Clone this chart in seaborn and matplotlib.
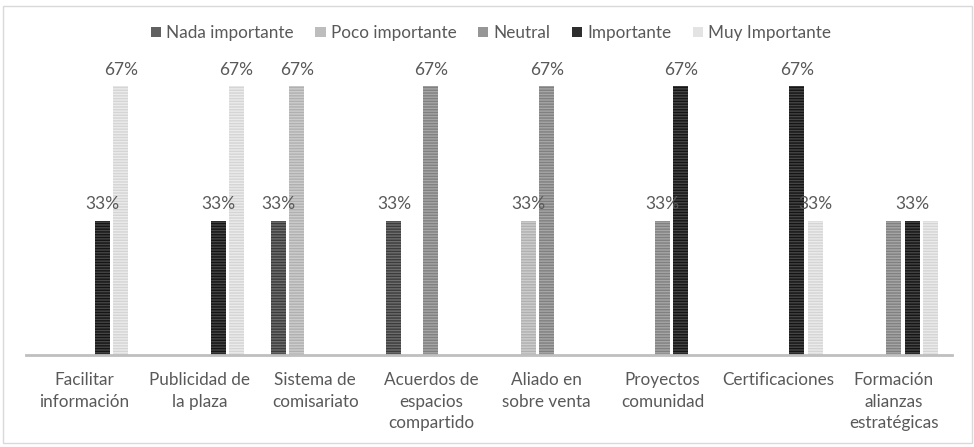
import matplotlib
matplotlib.use("Agg")
import matplotlib.pyplot as plt
import seaborn as sns
import pandas as pd
from matplotlib.patches import Patch, Rectangle

categorias = ["Facilitar\ninformación", "Publicidad de\nla plaza", "Sistema de\ncomisariato",
              "Acuerdos de\nespacios\ncompartido", "Aliado en\nsobre venta", "Proyectos\ncomunidad",
              "Certificaciones", "Formación\nalianzas\nestratégicas"]
series = ["Nada importante", "Poco importante", "Neutral", "Importante", "Muy Importante"]
nada = [0, 0, 0.333, 0.333, 0, 0, 0, 0]
poco = [0, 0, 0.667, 0, 0.333, 0, 0, 0]
neutral = [0, 0, 0, 0.667, 0.667, 0.333, 0, 0.333]
importante = [0.333, 0.333, 0, 0, 0, 0.667, 0.667, 0.333]
muy = [0.667, 0.667, 0, 0, 0, 0, 0.333, 0.333]
# data labels not shown in the original chart
etiquetas_ocultas = [("Formación\nalianzas\nestratégicas", "Neutral"),
                     ("Formación\nalianzas\nestratégicas", "Muy Importante")]

valores = [nada, poco, neutral, importante, muy]
rows = []
for s, vals in zip(series, valores):
    for c, v in zip(categorias, vals):
        rows.append({"categoria": c, "serie": s, "valor": v})
df = pd.DataFrame(rows)

caras = ["#6e6e6e", "#cdcdcd", "#a6a6a6", "#454545", "#ebebeb"]
rayas = ["#3c3c3c", "#b0b0b0", "#808080", "#151515", "#d5d5d5"]
leyenda_col = ["#616161", "#bdbdbd", "#969696", "#2e2e2e", "#e3e3e3"]

sns.set_theme(style="white")
plt.rcParams["font.family"] = ["Lato", "DejaVu Sans"]
plt.rcParams["hatch.linewidth"] = 1.0

fig = plt.figure(figsize=(9.74, 4.47), dpi=100)
ax = fig.add_axes([26 / 974, 92 / 447, 925.7 / 974, 322.8 / 447])

sns.barplot(data=df, x="categoria", y="valor", hue="serie", order=categorias,
            hue_order=series, palette=caras, width=0.8, gap=0.19, ax=ax,
            legend=False, linewidth=0, errorbar=None)

for cont, s, fc, hc in zip(ax.containers, series, caras, rayas):
    labels = []
    for bar, c in zip(cont, categorias):
        bar.set_facecolor(fc)
        bar.set_edgecolor(hc)
        bar.set_hatch("------")
        bar.set_linewidth(0)
        v = bar.get_height()
        if v > 0 and (c, s) not in etiquetas_ocultas:
            labels.append(f"{v:.0%}")
        else:
            labels.append("")
    ax.bar_label(cont, labels=labels, padding=6, fontsize=12.5, color="#595959")

ax.set_xlim(-0.5, 7.5)
ax.set_ylim(0, 0.8)
ax.set_xlabel("")
ax.set_ylabel("")
ax.set_yticks([])
ax.tick_params(axis="x", length=0, pad=12, labelsize=12.3, labelcolor="#595959")
for lab in ax.get_xticklabels():
    lab.set_linespacing(1.45)
for side in ["top", "right", "left"]:
    ax.spines[side].set_visible(False)
ax.spines["bottom"].set_color("#bfbfbf")
ax.spines["bottom"].set_linewidth(2)

handles = [Patch(facecolor=c, edgecolor="none", label=s) for c, s in zip(leyenda_col, series)]
fig.legend(handles=handles, loc="center", bbox_to_anchor=(491 / 974, 1 - 33 / 447), ncol=5,
           frameon=False, fontsize=12.3, handlelength=0.6, handleheight=0.6,
           handletextpad=0.3, columnspacing=1.25, labelcolor="#595959")

fig.add_artist(Rectangle((3 / 974, 4 / 447), 968.5 / 974, 437 / 447, transform=fig.transFigure,
                         fill=False, edgecolor="#d9d9d9", linewidth=1))

fig.savefig("out.png", dpi=100)
